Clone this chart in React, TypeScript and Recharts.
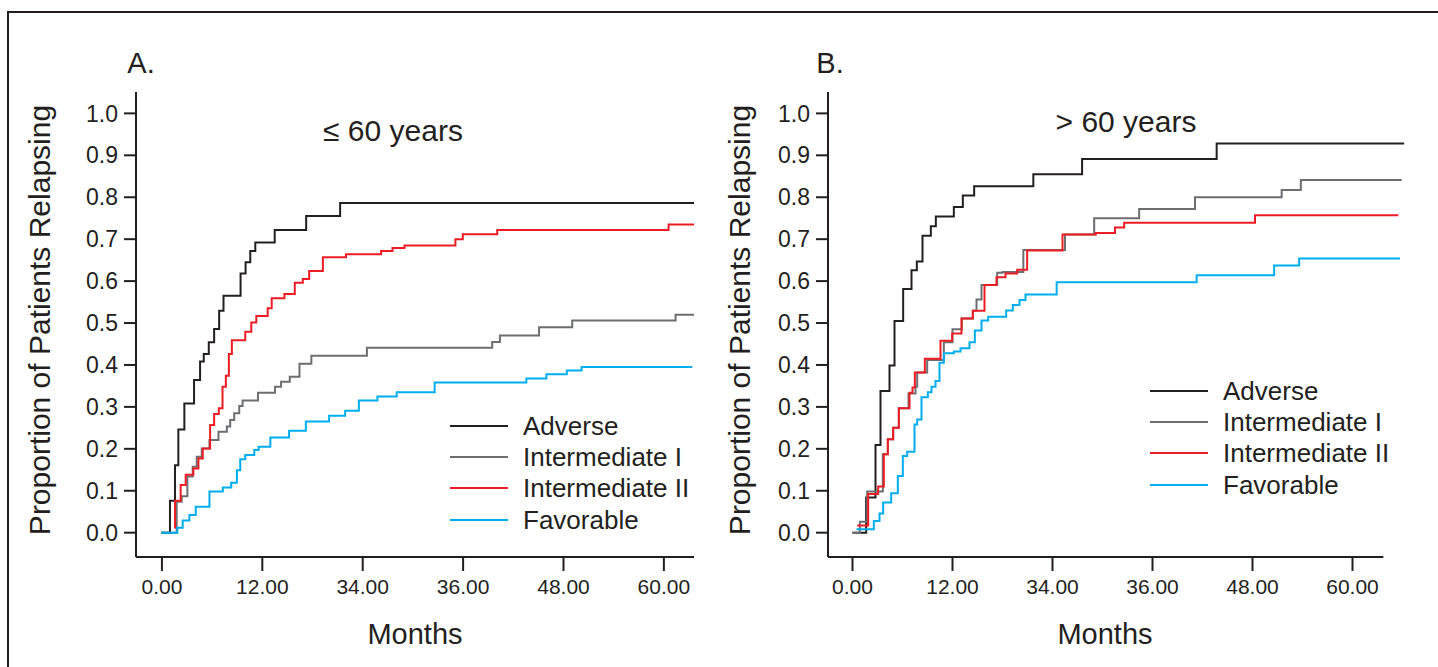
import { Legend, Line, LineChart, ReferenceLine, XAxis, YAxis } from "recharts";

// cumulative incidence steps, [month, proportion]
const aAdverse = [[-0.1, 0], [0.96, 0.076], [1.56, 0.161], [1.96, 0.246], [2.68, 0.308], [3.84, 0.364], [4.56, 0.408], [5.0, 0.426], [5.6, 0.454], [6.24, 0.486], [6.84, 0.529], [7.36, 0.565], [9.4, 0.618], [10.0, 0.645], [10.56, 0.672], [11.16, 0.692], [13.48, 0.722], [17.24, 0.755], [21.3, 0.786], [64, 0.786]];
const aInterI = [[-0.1, 0], [1.76, 0.074], [2.36, 0.087], [3.04, 0.134], [3.68, 0.157], [4.16, 0.181], [4.76, 0.201], [5.68, 0.221], [6.76, 0.241], [7.76, 0.253], [8.16, 0.269], [8.64, 0.285], [9.24, 0.302], [9.64, 0.315], [11.48, 0.334], [13.52, 0.348], [14.24, 0.36], [15.28, 0.372], [16.44, 0.403], [17.86, 0.422], [24.5, 0.441], [39.48, 0.455], [40.4, 0.47], [45.08, 0.49], [49.04, 0.506], [61.4, 0.52], [63.6, 0.52]];
const aInterII = [[1.5, 0.012], [1.56, 0.076], [2.24, 0.114], [2.84, 0.138], [3.76, 0.153], [4.36, 0.177], [4.88, 0.201], [5.76, 0.257], [6.24, 0.283], [6.8, 0.297], [7.24, 0.348], [7.64, 0.374], [8.0, 0.426], [8.36, 0.459], [9.96, 0.479], [10.68, 0.501], [11.28, 0.517], [12.64, 0.535], [13.12, 0.559], [14.64, 0.569], [15.88, 0.596], [16.84, 0.605], [17.6, 0.624], [19.24, 0.657], [22.0, 0.664], [26.2, 0.672], [27.56, 0.679], [29.0, 0.685], [35.08, 0.7], [35.96, 0.712], [40.08, 0.722], [60.56, 0.735], [64, 0.735]];
const aFavorable = [[-0.1, 0], [1.84, 0.012], [2.48, 0.029], [3.28, 0.042], [4.04, 0.062], [5.68, 0.098], [7.28, 0.108], [8.28, 0.119], [8.96, 0.149], [9.36, 0.175], [9.96, 0.185], [11.04, 0.197], [11.56, 0.205], [12.96, 0.227], [15.2, 0.243], [17.2, 0.265], [19.98, 0.279], [21.9, 0.291], [23.54, 0.315], [25.76, 0.325], [28.06, 0.335], [32.6, 0.358], [43.56, 0.368], [45.96, 0.378], [48.4, 0.387], [50.16, 0.395], [63.4, 0.395]];

const bAdverse = [[0, 0], [1.64, 0.084], [2.76, 0.209], [3.36, 0.338], [4.44, 0.399], [5.04, 0.505], [6.08, 0.581], [7.08, 0.626], [7.72, 0.647], [8.4, 0.708], [9.4, 0.731], [10.0, 0.754], [12.16, 0.777], [13.24, 0.804], [14.6, 0.826], [21.7, 0.855], [27.55, 0.891], [43.7, 0.928], [66.2, 0.928]];
const bInterI = [[0, 0], [0.88, 0.026], [1.76, 0.098], [3.64, 0.187], [4.24, 0.223], [4.88, 0.25], [5.56, 0.297], [6.72, 0.332], [7.56, 0.348], [7.76, 0.382], [8.96, 0.412], [10.96, 0.454], [12.0, 0.485], [13.12, 0.511], [14.44, 0.529], [14.88, 0.556], [15.48, 0.591], [17.36, 0.62], [18.0, 0.622], [20.5, 0.674], [25.5, 0.711], [29.0, 0.75], [34.4, 0.772], [41.1, 0.8], [51.5, 0.817], [53.8, 0.841], [65.9, 0.841]];
const bInterII = [[0.56, 0.017], [1.88, 0.092], [3.08, 0.11], [3.76, 0.187], [4.24, 0.223], [4.88, 0.25], [5.56, 0.297], [6.84, 0.334], [7.2, 0.346], [7.48, 0.382], [8.68, 0.415], [10.56, 0.458], [11.96, 0.475], [13.08, 0.511], [14.44, 0.529], [15.84, 0.591], [17.28, 0.609], [18.36, 0.618], [19.76, 0.627], [20.96, 0.673], [25.2, 0.711], [29.2, 0.715], [31.5, 0.728], [32.6, 0.739], [48.3, 0.757], [65.5, 0.757]];
const bFavorable = [[0.48, 0.008], [2.56, 0.028], [3.24, 0.046], [3.68, 0.072], [4.64, 0.094], [5.44, 0.135], [6.04, 0.183], [6.56, 0.193], [7.44, 0.258], [7.76, 0.27], [8.28, 0.323], [9.04, 0.335], [9.48, 0.348], [9.96, 0.362], [10.44, 0.405], [10.96, 0.428], [12.16, 0.432], [12.96, 0.44], [14.04, 0.454], [14.68, 0.482], [15.48, 0.506], [16.28, 0.515], [18.44, 0.53], [19.24, 0.543], [20.04, 0.555], [20.76, 0.568], [24.5, 0.597], [41.3, 0.614], [50.6, 0.637], [53.6, 0.654], [65.7, 0.654]];

const groups = ["Adverse", "Intermediate I", "Intermediate II", "Favorable"];
const colors = ["#231f20", "#6d6e71", "#ed1c24", "#00aeef"];
const xTicks = [0, 12, 24, 36, 48, 60];
const xTickLabels = ["0.00", "12.00", "34.00", "36.00", "48.00", "60.00"];
const yTicks = [0, 0.1, 0.2, 0.3, 0.4, 0.5, 0.6, 0.7, 0.8, 0.9, 1.0];

const INK = "#231f20";
const FONT = "'Liberation Sans', Arial, Helvetica, sans-serif";

const toPts = (s: number[][]) => s.map(([x, y]) => ({ x, y }));

function LegendBox() {
  return (
    <div style={{ fontFamily: FONT, color: INK, fontSize: 26 }}>
      {groups.map((g, i) => (
        <div key={g} style={{ display: "flex", alignItems: "center", height: 31.3 }}>
          <svg width={58} height={4} style={{ marginRight: 15 }}>
            <line x1={0} y1={2} x2={58} y2={2} stroke={colors[i]} strokeWidth={2.2} />
          </svg>
          <span style={{ lineHeight: "26px" }}>{g}</span>
        </div>
      ))}
    </div>
  );
}

type PanelProps = {
  left: number;
  width: number;
  plotLeft: number;
  plotRight: number;
  xDomain: [number, number];
  axisEnd?: number;
  series: number[][][];
  legendLeft: number;
  legendTop: number;
};

function Panel({ left, width, plotLeft, plotRight, xDomain, axisEnd, series, legendLeft, legendTop }: PanelProps) {
  const yW = 60;
  const xH = 60;
  return (
    <div style={{ position: "absolute", left, top: 0 }}>
      <LineChart
        width={width}
        height={667}
        margin={{ top: 92, right: width - plotRight, bottom: 667 - 557 - xH, left: plotLeft - yW }}
      >
        <XAxis
          type="number"
          dataKey="x"
          domain={xDomain}
          allowDataOverflow
          ticks={xTicks}
          tickFormatter={(v: number) => xTickLabels[xTicks.indexOf(v)] ?? ""}
          height={xH}
          axisLine={axisEnd === undefined ? { stroke: INK, strokeWidth: 2 } : false}
          tickLine={{ stroke: INK, strokeWidth: 2 }}
          tickSize={14}
          tickMargin={8}
          tick={{ fill: INK, fontSize: 21, fontFamily: FONT }}
        />
        <YAxis
          type="number"
          domain={[-0.058, 1.051]}
          allowDataOverflow
          ticks={yTicks}
          tickFormatter={(v: number) => v.toFixed(1)}
          width={yW}
          axisLine={{ stroke: INK, strokeWidth: 2 }}
          tickLine={{ stroke: INK, strokeWidth: 2 }}
          tickSize={12}
          tickMargin={6}
          tick={{ fill: INK, fontSize: 23, fontFamily: FONT }}
        />
        {axisEnd !== undefined && (
          <ReferenceLine
            segment={[{ x: xDomain[0], y: -0.058 }, { x: axisEnd, y: -0.058 }]}
            stroke={INK}
            strokeWidth={2}
            ifOverflow="visible"
          />
        )}
        {series.map((s, i) => (
          <Line
            key={groups[i]}
            data={toPts(s)}
            dataKey="y"
            name={groups[i]}
            type="stepAfter"
            stroke={colors[i]}
            strokeWidth={2}
            dot={false}
            activeDot={false}
            isAnimationActive={false}
          />
        ))}
        <Legend
          layout="vertical"
          align="center"
          verticalAlign="middle"
          content={() => <LegendBox />}
          wrapperStyle={{ left: legendLeft, top: legendTop, width: "auto", height: "auto" }}
        />
      </LineChart>
    </div>
  );
}

function Txt({ x, y, size, children, rotate }: { x: number; y: number; size: number; children: string; rotate?: boolean }) {
  return (
    <div
      style={{
        position: "absolute",
        left: x,
        top: y,
        transform: `translate(-50%, -50%)${rotate ? " rotate(-90deg)" : ""}`,
        fontFamily: FONT,
        fontSize: size,
        lineHeight: `${size}px`,
        color: INK,
        whiteSpace: "nowrap",
      }}
    >
      {children}
    </div>
  );
}

export default function App() {
  return (
    <div style={{ position: "absolute", left: 0, top: 0, width: 1438, height: 667, overflow: "hidden", background: "#fff" }}>
      <div
        style={{
          position: "absolute",
          left: 7,
          top: 11,
          width: 1500,
          height: 700,
          borderLeft: `2px solid ${INK}`,
          borderTop: `2px solid ${INK}`,
        }}
      />
      <Panel
        left={0}
        width={720}
        plotLeft={136}
        plotRight={694}
        xDomain={[-3.1, 63.6]}
        series={[aAdverse, aInterI, aInterII, aFavorable]}
        legendLeft={450}
        legendTop={410}
      />
      <Panel
        left={700}
        width={738}
        plotLeft={128}
        plotRight={705}
        xDomain={[-2.94, 66.3]}
        axisEnd={63.7}
        series={[bAdverse, bInterI, bInterII, bFavorable]}
        legendLeft={450}
        legendTop={375}
      />
      <Txt x={141} y={63} size={29}>A.</Txt>
      <Txt x={830} y={63} size={29}>B.</Txt>
      <Txt x={393} y={131} size={30}>≤ 60 years</Txt>
      <Txt x={1126} y={122} size={30}>&gt; 60 years</Txt>
      <Txt x={40} y={320} size={30} rotate>Proportion of Patients Relapsing</Txt>
      <Txt x={740} y={320} size={30} rotate>Proportion of Patients Relapsing</Txt>
      <Txt x={415} y={634} size={29}>Months</Txt>
      <Txt x={1105} y={634} size={29}>Months</Txt>
    </div>
  );
}
